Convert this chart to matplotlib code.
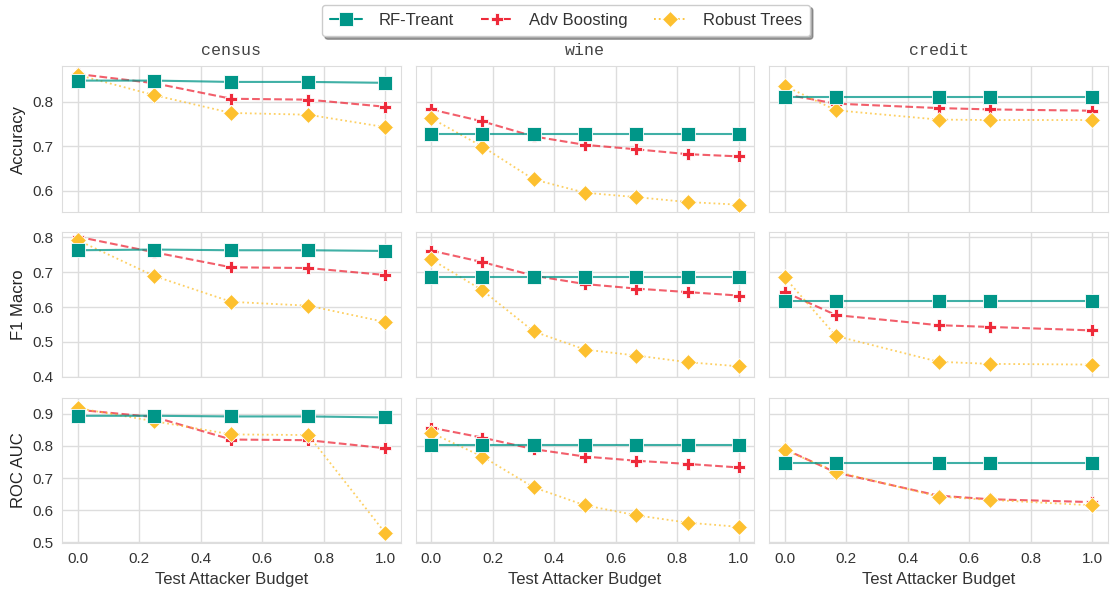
import matplotlib
matplotlib.use("Agg")
import matplotlib.pyplot as plt
import seaborn as sns
import numpy as np

datasets = ["census", "wine", "credit"]
metrics = ["Accuracy", "F1 Macro", "ROC AUC"]
models = ["RF-Treant", "Adv Boosting", "Robust Trees"]

x_census = [0.0, 0.25, 0.5, 0.75, 1.0]
x_wine = [0.0, 1/6, 2/6, 3/6, 4/6, 5/6, 1.0]
x_credit = [0.0, 1/6, 0.5, 2/3, 1.0]

# Accuracy
acc_census_rf = [0.848, 0.848, 0.845, 0.845, 0.843]
acc_census_adv = [0.863, 0.842, 0.807, 0.805, 0.789]
acc_census_rob = [0.861, 0.815, 0.775, 0.771, 0.743]
acc_wine_rf = [0.728, 0.728, 0.728, 0.728, 0.728, 0.728, 0.728]
acc_wine_adv = [0.783, 0.756, 0.722, 0.703, 0.693, 0.682, 0.677]
acc_wine_rob = [0.763, 0.699, 0.625, 0.595, 0.585, 0.574, 0.568]
acc_credit_rf = [0.811, 0.811, 0.811, 0.811, 0.811]
acc_credit_adv = [0.817, 0.796, 0.786, 0.783, 0.780]
acc_credit_rob = [0.836, 0.781, 0.760, 0.759, 0.759]

# F1 Macro
f1_census_rf = [0.763, 0.765, 0.763, 0.763, 0.761]
f1_census_adv = [0.802, 0.757, 0.714, 0.712, 0.692]
f1_census_rob = [0.792, 0.689, 0.615, 0.604, 0.557]
f1_wine_rf = [0.687, 0.687, 0.687, 0.687, 0.687, 0.687, 0.687]
f1_wine_adv = [0.762, 0.729, 0.690, 0.666, 0.653, 0.643, 0.633]
f1_wine_rob = [0.737, 0.648, 0.530, 0.478, 0.461, 0.442, 0.430]
f1_credit_rf = [0.616, 0.616, 0.616, 0.616, 0.616]
f1_credit_adv = [0.643, 0.577, 0.548, 0.543, 0.533]
f1_credit_rob = [0.685, 0.517, 0.443, 0.437, 0.435]

# ROC AUC
auc_census_rf = [0.894, 0.894, 0.892, 0.892, 0.889]
auc_census_adv = [0.913, 0.890, 0.820, 0.818, 0.793]
auc_census_rob = [0.918, 0.877, 0.836, 0.834, 0.529]
auc_wine_rf = [0.802, 0.802, 0.802, 0.802, 0.802, 0.802, 0.802]
auc_wine_adv = [0.857, 0.826, 0.790, 0.767, 0.754, 0.744, 0.733]
auc_wine_rob = [0.841, 0.767, 0.671, 0.615, 0.584, 0.561, 0.548]
auc_credit_rf = [0.748, 0.748, 0.748, 0.748, 0.748]
auc_credit_adv = [0.790, 0.717, 0.645, 0.634, 0.625]
auc_credit_rob = [0.787, 0.720, 0.642, 0.632, 0.615]

xs = {"census": x_census, "wine": x_wine, "credit": x_credit}
data = {
    "Accuracy": {
        "census": [acc_census_rf, acc_census_adv, acc_census_rob],
        "wine": [acc_wine_rf, acc_wine_adv, acc_wine_rob],
        "credit": [acc_credit_rf, acc_credit_adv, acc_credit_rob],
    },
    "F1 Macro": {
        "census": [f1_census_rf, f1_census_adv, f1_census_rob],
        "wine": [f1_wine_rf, f1_wine_adv, f1_wine_rob],
        "credit": [f1_credit_rf, f1_credit_adv, f1_credit_rob],
    },
    "ROC AUC": {
        "census": [auc_census_rf, auc_census_adv, auc_census_rob],
        "wine": [auc_wine_rf, auc_wine_adv, auc_wine_rob],
        "credit": [auc_credit_rf, auc_credit_adv, auc_credit_rob],
    },
}
ylims = {"Accuracy": (0.552, 0.880), "F1 Macro": (0.398, 0.815), "ROC AUC": (0.497, 0.950)}
yticks = {"Accuracy": [0.6, 0.7, 0.8], "F1 Macro": [0.4, 0.5, 0.6, 0.7, 0.8],
          "ROC AUC": [0.5, 0.6, 0.7, 0.8, 0.9]}

sns.set_style("whitegrid")
plt.rcParams["font.family"] = ["Liberation Sans", "DejaVu Sans"]

colors = ["#009688", "#ee2a3a", "#fdc02f"]
styles = [
    dict(linestyle="-", marker="s", markersize=9.5, linewidth=1.5, z=4),
    dict(linestyle="--", marker="P", markersize=8.5, linewidth=1.5, z=2),
    dict(linestyle=":", marker="D", markersize=8.5, linewidth=1.3, z=3),
]

fig, axes = plt.subplots(3, 3, figsize=(11.1, 5.93), dpi=100, sharex=True)
fig.subplots_adjust(left=0.056, right=0.998, top=0.888, bottom=0.084,
                    wspace=0.045, hspace=0.14)

handles = []
for i, m in enumerate(metrics):
    for j, d in enumerate(datasets):
        ax = axes[i, j]
        for k, name in enumerate(models):
            st = styles[k]
            ax.plot(xs[d], data[m][d][k], color=colors[k], alpha=0.75,
                    linestyle=st["linestyle"], linewidth=st["linewidth"],
                    zorder=st["z"])
            ax.plot(xs[d], data[m][d][k], color=colors[k], linestyle="none",
                    marker=st["marker"], markersize=st["markersize"],
                    markeredgecolor="white", markeredgewidth=0.6,
                    zorder=st["z"] + 0.5)
            if i == 0 and j == 0:
                h, = ax.plot([], [], color=colors[k], linestyle=st["linestyle"],
                             linewidth=st["linewidth"], marker=st["marker"],
                             markersize=st["markersize"], markeredgecolor="white",
                             markeredgewidth=0.6, label=name)
                handles.append(h)
        ax.set_ylim(*ylims[m])
        ax.set_yticks(yticks[m])
        ax.set_xticks([0.0, 0.2, 0.4, 0.6, 0.8, 1.0])
        ax.set_xlim(-0.05, 1.05)
        ax.tick_params(labelsize=11, colors="#333333", pad=3)
        for s in ax.spines.values():
            s.set_color("#dddddd")
        ax.grid(color="#dddddd", linewidth=1.0)
        if j == 0:
            ax.set_ylabel(m, fontsize=12, color="#222222")
        else:
            ax.tick_params(labelleft=False)
        if i == 0:
            ax.set_title(d, fontsize=12, family="Liberation Mono", color="#444444", pad=8)
        if i == 2:
            ax.set_xlabel("Test Attacker Budget", fontsize=12, color="#333333")

leg = fig.legend(handles=handles, labels=models, loc="upper center",
                 bbox_to_anchor=(0.51, 1.006), ncol=3, fontsize=12,
                 frameon=True, shadow=True, fancybox=True, handlelength=1.9,
                 handletextpad=1.0, columnspacing=1.6, borderpad=0.5)
leg.get_frame().set_edgecolor("#cccccc")
for t in leg.get_texts():
    t.set_color("#333333")

fig.savefig("out.png", dpi=100)
